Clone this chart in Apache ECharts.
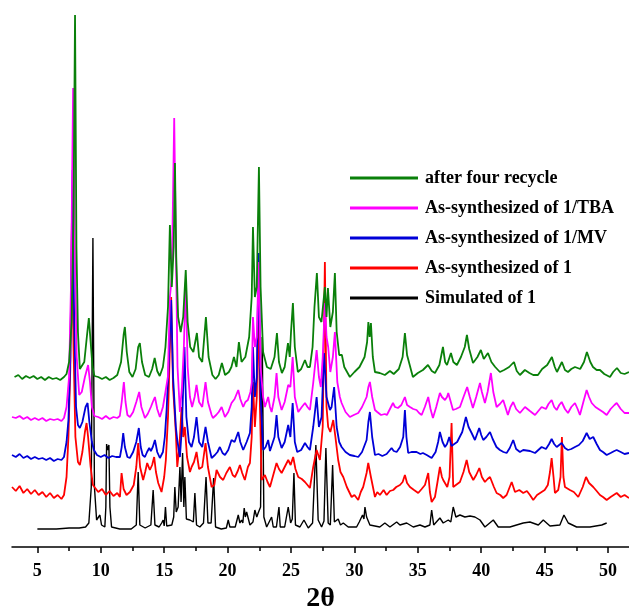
<!DOCTYPE html>
<html>
<head>
<meta charset="utf-8">
<script src="https://cdn.jsdelivr.net/npm/echarts@6/dist/echarts.min.js"></script>
<style>
  html, body { margin: 0; padding: 0; background: #fff; }
  #chart { width: 629px; height: 608px; }
</style>
</head>
<body>
<div id="chart"></div>
<script>
// series names, top of legend first
const seriesNames = ['after four recycle', 'As-synthesized of 1/TBA', 'As-synthesized of 1/MV', 'As-synthesized of 1', 'Simulated of 1'];
const seriesColors = ['#0a800a', '#ff00ff', '#0000d8', '#ff0000', '#000000'];

// axis labels / ticks (2θ, degrees)
const majorTicks = [5, 10, 15, 20, 25, 30, 35, 40, 45, 50];
const minorTicks = [7.5, 12.5, 17.5, 22.5, 27.5, 32.5, 37.5, 42.5, 47.5];

// [2θ, intensity (a.u., stacked)]
const simulated = [[5.0,18],[6.5,18],[7.5,19],[8.3,19],[8.8,20],[9.06,24],[9.25,60],[9.38,309],[9.5,60],[9.67,27],[9.8,25],[9.93,32],[10.06,22],[10.32,20],[10.4,40],[10.46,103],[10.54,97],[10.64,102],[10.72,40],[10.85,20],[11.5,18],[12.4,18],[12.8,22],[12.95,75],[13.08,22],[13.5,19],[13.95,22],[14.13,57],[14.27,22],[14.6,20],[14.8,24],[14.92,27],[15.0,21],[15.1,40],[15.2,21],[15.6,22],[15.75,30],[15.84,60],[15.95,35],[16.1,40],[16.24,80],[16.33,45],[16.45,94],[16.55,40],[16.63,70],[16.75,28],[17.03,27],[17.3,25],[17.42,54],[17.55,22],[17.81,20],[18.1,24],[18.3,70],[18.45,24],[18.7,24],[18.9,69],[19.05,20],[19.5,18],[19.9,19],[20.05,27],[20.18,20],[20.6,20],[20.84,32],[20.97,24],[21.1,27],[21.2,24],[21.31,39],[21.4,30],[21.5,35],[21.76,22],[22.0,25],[22.15,37],[22.3,30],[22.41,34],[22.6,40],[22.73,210],[22.86,30],[23.08,20],[23.47,30],[23.6,20],[23.85,20],[24.05,40],[24.15,20],[24.5,20],[24.78,40],[24.97,24],[25.1,28],[25.23,74],[25.35,22],[25.7,20],[26.02,27],[26.36,19],[26.7,24],[26.96,102],[27.14,27],[27.41,20],[27.6,26],[27.75,99],[27.93,24],[28.1,22],[28.28,82],[28.42,25],[28.72,28],[28.9,22],[29.12,24],[29.51,20],[30.17,20],[30.38,25],[30.64,32],[30.75,28],[30.83,40],[30.96,30],[31.22,22],[32.0,20],[32.4,24],[32.8,20],[33.33,25],[33.59,22],[34.12,24],[34.64,20],[35.17,22],[35.56,20],[35.95,22],[36.09,37],[36.25,22],[36.74,29],[37.0,24],[37.4,27],[37.6,25],[37.79,40],[38.0,30],[38.32,32],[38.71,30],[39.11,31],[39.5,30],[39.9,27],[40.29,20],[40.95,27],[41.34,20],[42.26,20],[43.31,24],[43.84,25],[44.5,22],[44.89,27],[45.42,21],[46.2,22],[46.52,32],[46.86,24],[47.52,20],[48.57,20],[49.5,22],[49.89,24]];

const asSynth1 = [[3.0,60],[3.3,56],[3.6,61],[3.9,54],[4.2,58],[4.5,53],[4.8,57],[5.1,52],[5.4,55],[5.7,50],[6.0,54],[6.3,49],[6.6,52],[6.9,48],[7.1,52],[7.3,70],[7.45,110],[7.6,180],[7.72,324],[7.85,200],[8.0,110],[8.2,85],[8.35,82],[8.55,95],[8.75,115],[8.88,124],[9.0,110],[9.2,80],[9.38,62],[9.5,60],[9.8,55],[10.1,58],[10.4,52],[10.7,56],[11.0,51],[11.3,54],[11.51,50],[11.64,74],[11.8,58],[12.03,52],[12.3,55],[12.6,62],[12.8,80],[12.95,104],[13.1,80],[13.34,67],[13.5,75],[13.66,84],[13.87,77],[14.05,82],[14.21,90],[14.35,75],[14.53,64],[14.79,55],[15.0,70],[15.13,87],[15.3,130],[15.45,200],[15.55,250],[15.7,160],[15.92,114],[16.03,80],[16.2,100],[16.37,140],[16.5,110],[16.63,120],[16.8,90],[17.03,75],[17.16,80],[17.35,85],[17.55,95],[17.75,78],[18.0,80],[18.26,104],[18.45,80],[18.74,60],[18.95,62],[19.13,77],[19.4,70],[19.65,67],[19.9,74],[20.18,80],[20.4,72],[20.58,70],[20.8,76],[20.97,82],[21.15,74],[21.36,67],[21.6,80],[21.76,84],[21.9,110],[22.0,165],[22.15,120],[22.3,150],[22.42,245],[22.55,140],[22.68,67],[22.94,72],[23.15,65],[23.34,60],[23.6,72],[23.86,84],[24.05,78],[24.26,74],[24.5,80],[24.78,87],[24.97,82],[25.17,90],[25.35,78],[25.57,70],[25.85,68],[26.1,65],[26.3,62],[26.49,59],[26.75,80],[27.02,97],[27.2,90],[27.28,87],[27.5,120],[27.67,285],[27.8,140],[27.93,120],[28.1,115],[28.33,127],[28.5,110],[28.72,87],[28.9,75],[29.12,70],[29.4,60],[29.78,50],[30.0,52],[30.3,47],[30.5,55],[30.69,60],[30.96,74],[31.09,84],[31.3,70],[31.62,50],[31.8,55],[32.01,52],[32.3,57],[32.54,52],[32.8,56],[33.06,57],[33.3,60],[33.59,62],[33.8,65],[33.98,72],[34.15,64],[34.38,60],[34.7,57],[35.03,54],[35.3,58],[35.56,62],[35.82,74],[35.95,55],[36.09,45],[36.35,50],[36.55,65],[36.74,80],[36.9,70],[37.0,67],[37.32,60],[37.5,70],[37.66,124],[37.79,60],[38.0,62],[38.32,65],[38.6,75],[38.85,87],[39.05,75],[39.37,67],[39.6,72],[39.85,79],[40.05,70],[40.29,65],[40.5,68],[40.69,70],[41.0,60],[41.21,54],[41.5,52],[41.73,49],[42.0,52],[42.13,54],[42.4,65],[42.66,55],[43.0,57],[43.31,54],[43.6,56],[43.84,52],[44.1,47],[44.4,52],[44.76,55],[45.0,57],[45.25,62],[45.42,75],[45.55,89],[45.7,70],[45.81,54],[46.07,57],[46.25,70],[46.36,110],[46.48,70],[46.6,60],[46.99,57],[47.3,55],[47.65,50],[48.0,60],[48.26,70],[48.5,64],[48.83,60],[49.1,56],[49.36,52],[49.6,50],[49.89,47],[50.2,50],[50.68,54],[51.0,50],[51.3,52],[51.65,49]];

const asSynthMV = [[3.0,92],[3.3,90],[3.6,93],[3.9,89],[4.2,91],[4.5,88],[4.8,90],[5.1,88],[5.4,89],[5.7,87],[6.0,89],[6.3,86],[6.6,88],[6.9,87],[7.1,90],[7.3,105],[7.45,127],[7.6,190],[7.78,377],[7.9,230],[8.05,140],[8.2,122],[8.35,119],[8.55,125],[8.8,140],[8.96,144],[9.1,125],[9.3,105],[9.46,97],[9.7,92],[10.0,90],[10.3,92],[10.6,89],[10.9,91],[11.2,90],[11.51,90],[11.65,100],[11.77,114],[11.9,100],[12.1,90],[12.29,89],[12.55,95],[12.8,105],[13.0,119],[13.15,100],[13.3,92],[13.48,90],[13.65,95],[13.82,99],[13.95,96],[14.1,100],[14.27,107],[14.45,95],[14.66,89],[14.9,95],[15.05,110],[15.19,137],[15.35,180],[15.55,247],[15.7,170],[15.92,120],[16.03,107],[16.24,90],[16.4,120],[16.6,200],[16.75,130],[16.95,105],[17.16,100],[17.35,110],[17.55,130],[17.75,105],[18.0,100],[18.26,120],[18.45,105],[18.74,89],[19.0,92],[19.2,95],[19.39,100],[19.6,94],[19.79,92],[20.05,97],[20.31,107],[20.55,105],[20.84,115],[21.0,105],[21.23,97],[21.5,105],[21.76,114],[21.9,140],[22.0,200],[22.15,150],[22.3,170],[22.45,294],[22.6,150],[22.81,97],[23.0,100],[23.2,107],[23.34,96],[23.47,95],[23.7,110],[23.86,132],[24.0,110],[24.26,99],[24.5,105],[24.78,122],[24.95,110],[25.13,144],[25.3,105],[25.49,95],[25.8,97],[26.1,104],[26.3,100],[26.49,97],[26.75,120],[27.02,150],[27.2,120],[27.41,130],[27.6,194],[27.8,150],[28.07,137],[28.2,140],[28.4,160],[28.6,120],[28.8,105],[28.99,100],[29.3,95],[29.64,92],[30.0,91],[30.3,90],[30.6,95],[30.96,107],[31.1,125],[31.22,135],[31.4,110],[31.62,92],[31.9,93],[32.2,91],[32.54,93],[32.93,99],[33.1,96],[33.33,95],[33.6,100],[33.85,110],[33.98,137],[34.1,110],[34.24,94],[34.5,95],[34.9,95],[35.2,93],[35.4,94],[35.7,92],[36.09,89],[36.4,95],[36.6,105],[36.74,115],[36.95,105],[37.14,100],[37.3,103],[37.48,110],[37.65,101],[37.79,99],[38.1,105],[38.5,115],[38.79,130],[39.0,120],[39.24,114],[39.5,107],[39.84,119],[40.0,112],[40.16,107],[40.4,110],[40.69,115],[40.9,108],[41.2,100],[41.47,97],[41.75,95],[42.0,94],[42.25,99],[42.52,107],[42.75,98],[43.05,95],[43.31,97],[43.45,99],[43.84,96],[44.24,94],[44.5,97],[44.76,100],[45.1,98],[45.35,103],[45.55,108],[45.75,103],[45.95,100],[46.34,104],[46.6,99],[46.84,97],[47.1,98],[47.39,100],[47.7,102],[48.0,106],[48.31,114],[48.55,108],[48.83,110],[49.1,103],[49.36,97],[49.6,95],[49.89,92],[50.2,94],[50.5,96],[50.68,97],[51.0,95],[51.3,93],[51.65,94]];

const asSynthTBA = [[3.0,130],[3.3,129],[3.6,131],[3.9,128],[4.2,130],[4.5,127],[4.8,129],[5.1,127],[5.4,129],[5.7,126],[6.0,128],[6.3,127],[6.6,128],[6.9,126],[7.1,129],[7.3,140],[7.5,170],[7.65,260],[7.82,459],[7.95,300],[8.1,190],[8.3,152],[8.5,155],[8.75,170],[9.0,182],[9.15,165],[9.3,140],[9.5,131],[9.8,130],[10.1,128],[10.4,131],[10.7,128],[11.0,130],[11.3,129],[11.5,131],[11.65,145],[11.82,165],[11.95,145],[12.1,132],[12.3,130],[12.55,135],[12.8,145],[13.03,155],[13.2,140],[13.48,129],[13.7,133],[13.95,140],[14.1,145],[14.27,150],[14.45,138],[14.66,130],[14.9,140],[15.1,155],[15.29,170],[15.45,250],[15.6,270],[15.79,429],[15.92,300],[16.05,180],[16.24,135],[16.4,160],[16.55,200],[16.7,265],[16.85,180],[17.03,150],[17.2,140],[17.4,150],[17.55,162],[17.75,145],[18.0,140],[18.26,165],[18.45,145],[18.74,132],[18.84,129],[19.1,132],[19.3,135],[19.53,140],[19.79,130],[20.05,135],[20.31,144],[20.55,148],[20.84,157],[21.0,148],[21.23,140],[21.4,145],[21.6,147],[21.8,155],[21.9,164],[22.0,230],[22.15,200],[22.3,210],[22.45,285],[22.6,180],[22.8,150],[22.94,140],[23.2,150],[23.34,140],[23.47,135],[23.7,150],[23.86,174],[24.0,150],[24.26,137],[24.5,145],[24.78,162],[24.95,160],[25.13,190],[25.3,150],[25.57,135],[25.85,140],[26.1,144],[26.3,140],[26.49,137],[26.75,164],[27.02,197],[27.2,170],[27.35,160],[27.5,190],[27.67,244],[27.8,210],[27.93,200],[28.1,175],[28.3,190],[28.46,215],[28.65,165],[28.85,150],[28.99,144],[29.3,135],[29.64,130],[29.95,132],[30.3,134],[30.6,140],[30.96,150],[31.1,160],[31.22,165],[31.4,150],[31.62,137],[31.8,135],[32.1,132],[32.4,133],[32.56,132],[32.8,138],[33.04,144],[33.2,140],[33.43,139],[33.7,142],[33.98,150],[34.15,142],[34.38,140],[34.64,138],[34.9,137],[35.1,134],[35.3,132],[35.55,140],[35.82,150],[36.0,138],[36.19,129],[36.45,140],[36.74,154],[36.9,150],[37.14,147],[37.3,150],[37.4,154],[37.6,145],[37.77,137],[38.0,138],[38.32,140],[38.6,150],[38.89,160],[39.1,150],[39.34,139],[39.6,150],[39.9,164],[40.05,155],[40.29,144],[40.5,155],[40.76,174],[40.95,155],[41.21,140],[41.47,143],[41.73,147],[42.1,132],[42.3,140],[42.52,145],[42.75,138],[43.05,134],[43.45,140],[43.84,136],[44.24,132],[44.5,136],[44.76,140],[45.1,138],[45.3,143],[45.55,147],[45.75,140],[45.95,137],[46.15,142],[46.34,145],[46.6,138],[46.84,134],[47.1,140],[47.39,144],[47.6,138],[47.78,132],[48.05,145],[48.31,157],[48.5,150],[48.71,144],[49.0,140],[49.36,137],[49.6,135],[49.89,132],[50.2,138],[50.5,142],[50.68,144],[51.0,138],[51.3,134],[51.65,134]];

const afterRecycle = [[3.2,170],[3.5,172],[3.8,168],[4.1,171],[4.4,169],[4.7,171],[5.0,168],[5.3,170],[5.6,167],[5.9,170],[6.2,168],[6.5,169],[6.8,167],[7.1,170],[7.3,173],[7.5,185],[7.7,225],[7.85,330],[7.97,532],[8.08,300],[8.2,215],[8.35,178],[8.5,176],[8.7,185],[8.9,210],[9.06,229],[9.2,205],[9.35,180],[9.5,171],[9.8,170],[10.1,168],[10.4,170],[10.7,167],[11.0,169],[11.3,172],[11.6,185],[11.8,212],[11.9,220],[12.05,195],[12.25,175],[12.5,170],[12.75,178],[12.95,200],[13.08,204],[13.25,185],[13.5,172],[13.8,170],[14.05,178],[14.25,189],[14.45,176],[14.65,171],[14.9,180],[15.1,200],[15.3,240],[15.45,322],[15.6,260],[15.75,300],[15.85,384],[15.95,290],[16.1,230],[16.3,215],[16.5,230],[16.7,277],[16.85,225],[17.05,200],[17.3,195],[17.58,214],[17.75,190],[18.0,185],[18.29,230],[18.5,190],[18.8,172],[19.05,168],[19.3,172],[19.55,184],[19.8,172],[20.1,175],[20.3,180],[20.5,190],[20.7,180],[20.89,205],[21.1,185],[21.4,190],[21.7,210],[21.9,250],[22.0,320],[22.15,250],[22.3,260],[22.47,380],[22.6,260],[22.8,195],[23.1,180],[23.4,178],[23.7,190],[23.89,214],[24.05,185],[24.28,174],[24.5,180],[24.76,204],[24.9,190],[25.0,215],[25.15,244],[25.3,200],[25.54,175],[25.8,178],[26.1,187],[26.3,180],[26.49,180],[26.7,200],[26.85,240],[27.04,274],[27.2,230],[27.4,225],[27.67,260],[27.8,230],[27.91,259],[28.1,220],[28.3,235],[28.46,274],[28.6,215],[28.8,192],[29.01,192],[29.2,180],[29.64,170],[30.0,175],[30.4,180],[30.8,190],[31.0,205],[31.1,225],[31.2,210],[31.3,224],[31.45,190],[31.62,175],[32.0,174],[32.4,172],[32.8,176],[33.1,173],[33.5,178],[33.8,190],[33.98,214],[34.15,192],[34.4,180],[34.61,170],[35.0,174],[35.4,177],[35.8,182],[36.1,176],[36.35,174],[36.7,182],[36.98,200],[37.15,185],[37.3,182],[37.61,194],[37.8,185],[38.08,182],[38.4,190],[38.7,200],[38.87,212],[39.05,198],[39.35,184],[39.7,190],[39.97,197],[40.2,188],[40.53,194],[40.8,185],[41.1,180],[41.47,175],[41.8,177],[42.2,180],[42.58,185],[42.8,176],[43.05,172],[43.44,177],[43.8,174],[44.1,172],[44.47,172],[44.8,178],[45.2,182],[45.57,190],[45.8,180],[45.97,175],[46.36,185],[46.6,177],[46.84,175],[47.1,178],[47.39,180],[47.8,178],[48.1,185],[48.33,195],[48.6,185],[48.81,180],[49.1,177],[49.36,177],[49.7,173],[50.15,170],[50.4,175],[50.7,179],[51.0,174],[51.3,173],[51.65,175]];

const traces = [afterRecycle, asSynthTBA, asSynthMV, asSynth1, simulated];
const lineWidths = [1.8, 1.8, 1.8, 1.8, 1.4];

const FONT = 'Liberation Serif';

const chart = echarts.init(document.getElementById('chart'), null, { renderer: 'canvas' });

// draw black first so green ends up on top
const seriesList = [];
for (let i = traces.length - 1; i >= 0; i--) {
    seriesList.push({
        name: seriesNames[i],
        type: 'line',
        data: traces[i],
        showSymbol: false,
        symbol: 'none',
        lineStyle: { color: seriesColors[i], width: lineWidths[i] },
        itemStyle: { color: seriesColors[i] },
        animation: false
    });
}

chart.setOption({
    backgroundColor: '#ffffff',
    animation: false,
    grid: { left: 12, right: 0, top: 0, bottom: 61, outerBoundsMode: 'none', containLabel: false },
    legend: {
        data: seriesNames,
        orient: 'vertical',
        left: 345,
        top: 164,
        icon: 'rect',
        itemWidth: 68,
        itemHeight: 3,
        itemGap: 12,
        textStyle: { fontFamily: FONT, fontWeight: 'bold', fontSize: 18, color: '#000', lineHeight: 18, padding: [0, 0, 0, 2] }
    },
    xAxis: [{
        type: 'value',
        min: 3,
        max: 51.65,
        name: '2θ',
        nameLocation: 'middle',
        nameGap: 28,
        nameTextStyle: { fontFamily: FONT, fontWeight: 'bold', fontSize: 28, color: '#000' },
        splitLine: { show: false },
        axisLine: { show: true, lineStyle: { color: '#000', width: 1.5 } },
        axisTick: { show: true, length: 6, lineStyle: { color: '#000', width: 1.5 }, customValues: majorTicks },
        axisLabel: { fontFamily: FONT, fontWeight: 'bold', fontSize: 18, color: '#000', margin: 15, customValues: majorTicks }
    }, {
        type: 'value',
        min: 3,
        max: 51.65,
        position: 'bottom',
        splitLine: { show: false },
        axisLine: { show: false },
        axisTick: { show: true, length: 4, lineStyle: { color: '#000', width: 1.5 }, customValues: minorTicks },
        axisLabel: { show: false }
    }],
    yAxis: {
        type: 'value',
        min: 0,
        max: 547,
        show: false,
        splitLine: { show: false }
    },
    series: seriesList
});
</script>
</body>
</html>
